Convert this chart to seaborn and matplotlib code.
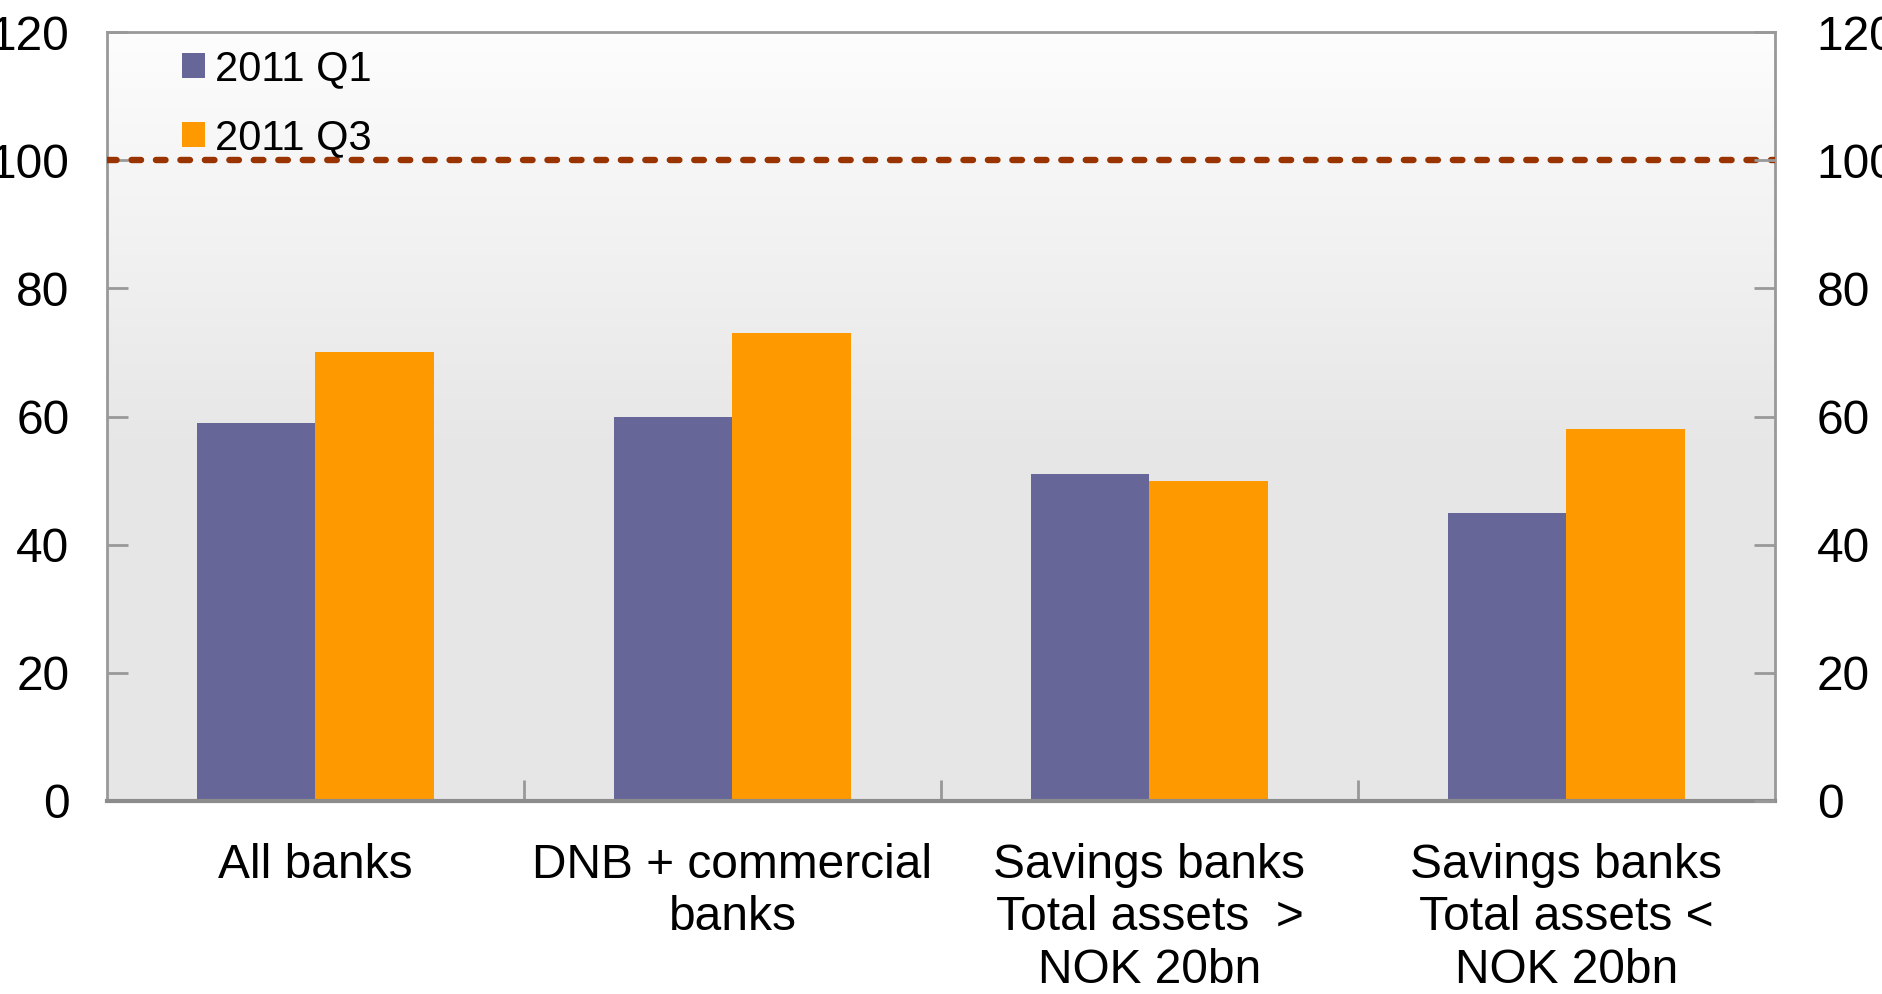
import numpy as np
import pandas as pd
import matplotlib
matplotlib.use("Agg")
import matplotlib.pyplot as plt
import seaborn as sns
from matplotlib.colors import LinearSegmentedColormap

categories = ["All banks", "DNB + commercial\nbanks",
              "Savings banks\nTotal assets  >\nNOK 20bn",
              "Savings banks\nTotal assets <\nNOK 20bn"]
q1_values = [59, 60, 51, 45]
q3_values = [70, 73, 50, 58]
series_names = ["2011 Q1", "2011 Q3"]
y_ticks = [0, 20, 40, 60, 80, 100, 120]
ref_level = 100

df = pd.DataFrame({
    "category": categories * 2,
    "series": [series_names[0]] * 4 + [series_names[1]] * 4,
    "value": q1_values + q3_values,
})

sns.set_theme(style="white")
plt.rcParams["font.family"] = ["Liberation Sans", "DejaVu Sans"]
FS = 34.5
LFS = 30

fig = plt.figure(figsize=(18.83, 9.94), dpi=100)
W, H = 1883, 994
ax = fig.add_axes([107 / W, (H - 801) / H, (1775 - 107) / W, (801 - 32) / H])

# gradient background
cmap = LinearSegmentedColormap.from_list("bg", [(0, "#e7e7e7"), (0.45, "#e6e6e6"), (1, "#fdfdfd")])
grad = np.linspace(0, 1, 256).reshape(-1, 1)
ax.imshow(grad, aspect="auto", cmap=cmap, origin="lower",
          extent=[-0.5, 3.5, 0, 120], zorder=0)

sns.barplot(data=df, x="category", y="value", hue="series",
            palette=["#666699", "#FF9900"], width=0.57, saturation=1,
            ax=ax, zorder=2, edgecolor="none", linewidth=0)

ax.axhline(ref_level, color="#993300", linestyle=(0, (1.5, 2.33)), linewidth=4.6,
           dash_capstyle="round", zorder=3)

ax.set_xlim(-0.5, 3.5)
ax.set_ylim(0, 120)
ax.set_xlabel("")
ax.set_ylabel("")
ax.set_yticks(y_ticks)
ax.set_yticklabels([str(v) for v in y_ticks], fontsize=FS, color="black")
ax.tick_params(axis="y", which="both", direction="in", length=15, width=2,
               color="#999999", pad=27, left=True, right=False,
               labelleft=True, labelright=False)

ax2 = ax.twinx()
ax2.set_ylim(0, 120)
ax2.set_yticks(y_ticks)
ax2.set_yticklabels([str(v) for v in y_ticks], fontsize=FS, color="black")
ax2.tick_params(axis="y", direction="in", length=15, width=2, color="#999999",
                pad=30, right=True, labelright=True)
ax2.grid(False)
for s in ax2.spines.values():
    s.set_visible(False)

ax.set_xticks([0, 1, 2, 3])
ax.set_xticklabels(categories, fontsize=FS, linespacing=1.22, color="black")
ax.set_xticks([0.5, 1.5, 2.5], minor=True)
ax.tick_params(axis="x", which="major", length=0, pad=30)
ax.tick_params(axis="x", which="minor", direction="in", length=15, width=2,
               color="#999999", bottom=True)

for side in ["left", "right", "top"]:
    ax.spines[side].set_visible(True)
    ax.spines[side].set_color("#999999")
    ax.spines[side].set_linewidth(2)
ax.spines["bottom"].set_color("#8c8c8c")
ax.spines["bottom"].set_linewidth(3)
ax.grid(False)

leg = ax.legend(loc="upper left", bbox_to_anchor=(0.045, 0.977), frameon=False,
                fontsize=LFS, handlelength=0.55, handleheight=0.55, handletextpad=0.25,
                labelspacing=0.68, borderaxespad=0, borderpad=0)
for t in leg.get_texts():
    t.set_color("black")

fig.savefig("out.png", dpi=100)
